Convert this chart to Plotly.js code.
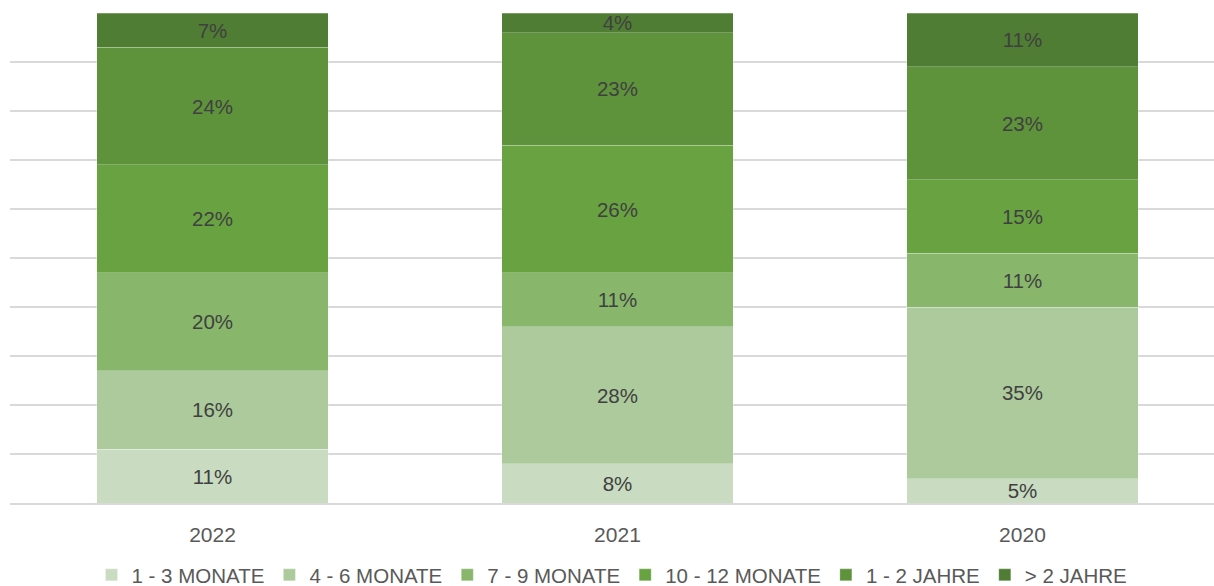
<!DOCTYPE html>
<html>
<head>
<meta charset="utf-8">
<script src="https://cdn.plot.ly/plotly-3.0.1.min.js"></script>
<style>html,body{margin:0;padding:0;overflow:hidden;background:#fff}#chart{width:1214px;height:586px}</style>
</head>
<body>
<div id="chart"></div>
<script>
const categories = ['2022', '2021', '2020'];
const seriesNames = ['1 - 3 MONATE', '4 - 6 MONATE', '7 - 9 MONATE', '10 - 12 MONATE', '1 - 2 JAHRE', '> 2 JAHRE'];
const m1_3 = [11, 8, 5];
const m4_6 = [16, 28, 35];
const m7_9 = [20, 11, 11];
const m10_12 = [22, 26, 15];
const j1_2 = [24, 23, 23];
const j2plus = [7, 4, 11];
const yTicks = [0, 10, 20, 30, 40, 50, 60, 70, 80, 90, 100];

const seriesValues = [m1_3, m4_6, m7_9, m10_12, j1_2, j2plus];
const colors = ['#c9dcc1', '#adca9c', '#88b76c', '#69a341', '#5e933b', '#4f7d33'];

const traces = seriesValues.map((vals, i) => ({
  type: 'bar',
  name: seriesNames[i],
  x: categories,
  y: vals,
  text: vals.map(v => v + '%'),
  textposition: 'inside',
  insidetextanchor: 'middle',
  textangle: 0,
  constraintext: 'none',
  textfont: {family: 'Liberation Sans, Arial, sans-serif', size: 20.5, color: '#404040'},
  marker: {color: colors[i], line: {color: 'rgba(255,255,255,0.25)', width: 1}},
  hoverinfo: 'skip'
}));

const layout = {
  width: 1214,
  height: 586,
  barmode: 'stack',
  bargap: 0.428,
  margin: {l: 10, r: 0, t: 13, b: 83, autoexpand: false},
  paper_bgcolor: '#ffffff',
  plot_bgcolor: '#ffffff',
  font: {family: 'Liberation Sans, Arial, sans-serif', color: '#595959', size: 20},
  xaxis: {
    type: 'category',
    range: [-0.5, 2.473],
    showgrid: false,
    showline: true,
    linecolor: '#d9d9d9',
    linewidth: 1.5,
    ticks: '',
    ticklabelstandoff: 12,
    tickfont: {size: 21, color: '#595959'},
    automargin: false,
    fixedrange: true
  },
  yaxis: {
    range: [0, 100],
    tickvals: yTicks,
    showticklabels: false,
    showgrid: true,
    gridcolor: '#d9d9d9',
    gridwidth: 1.5,
    zeroline: false,
    automargin: false,
    fixedrange: true
  },
  showlegend: true,
  legend: {
    orientation: 'h',
    x: 0.5,
    xanchor: 'center',
    y: -0.147,
    yanchor: 'middle',
    traceorder: 'normal',
    font: {size: 20.5, color: '#595959'},
    itemclick: false,
    itemdoubleclick: false
  }
};

Plotly.newPlot('chart', traces, layout, {displayModeBar: false, staticPlot: true});
</script>
</body>
</html>
